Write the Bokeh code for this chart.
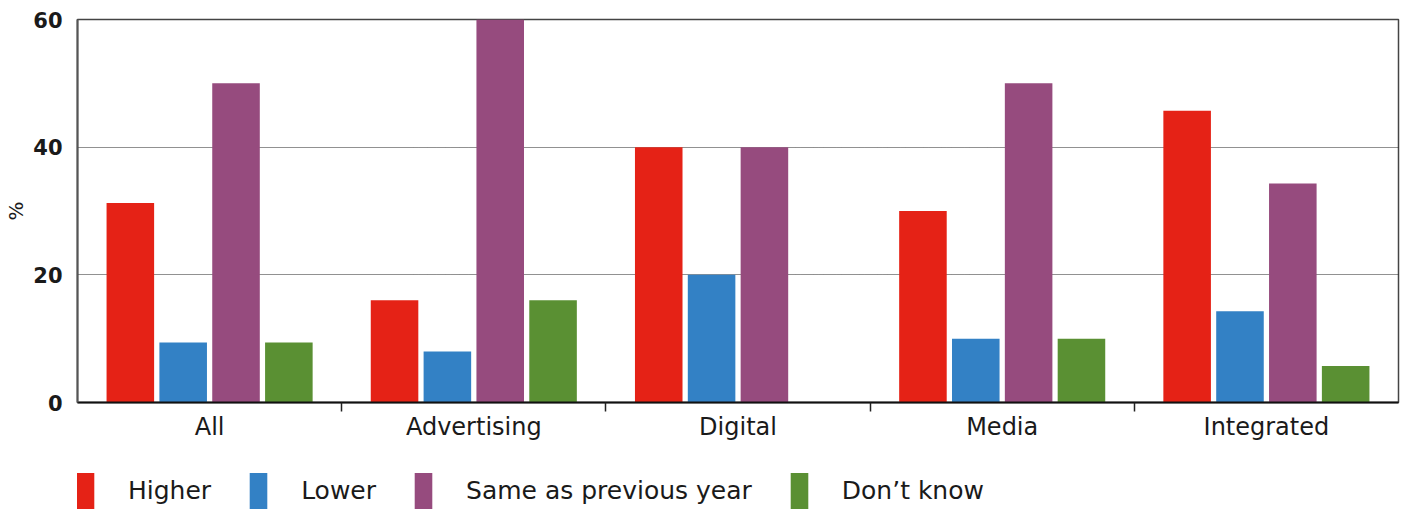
from bokeh.plotting import figure
from bokeh.layouts import column
from bokeh.models import ColumnDataSource, FixedTicker, Legend, LegendItem, Range1d
from bokeh.embed import file_html
from bokeh.resources import INLINE

categories = ["All", "Advertising", "Digital", "Media", "Integrated"]
series_names = ["Higher", "Lower", "Same as previous year", "Don\u2019t know"]
higher = [31.25, 16.0, 40.0, 30.0, 45.7]
lower = [9.4, 8.0, 20.0, 10.0, 14.3]
same = [50.0, 60.0, 40.0, 50.0, 34.3]
dont_know = [9.4, 16.0, 0.0, 10.0, 5.7]
y_ticks = [0, 20, 40, 60]

series_values = [higher, lower, same, dont_know]
colors = ["#E52216", "#3381C5", "#964B7E", "#5A9033"]
offsets = [-0.3, -0.1, 0.1, 0.3]

FONT = "DejaVu Sans"
TEXT = "#1a1a1a"
W = 1408
H1 = 462
H2 = 509 - H1

p = figure(width=W, height=H1, output_backend="svg", toolbar_location=None,
           x_range=Range1d(0, len(categories)), y_range=Range1d(0, 60),
           min_border_left=77, min_border_right=10, min_border_top=19,
           min_border_bottom=H1 - 402, background_fill_color="white",
           border_fill_color="white")

for name, vals, col, off in zip(series_names, series_values, colors, offsets):
    src = ColumnDataSource(dict(x=[i + 0.5 + off for i in range(len(categories))], top=vals))
    p.vbar(x="x", top="top", bottom=0, width=0.18, source=src,
           fill_color=col, line_color=None)

p.outline_line_color = "#444444"
p.outline_line_width = 1.5

# x axis
xa = p.xaxis[0]
xa.ticker = FixedTicker(ticks=[i + 0.5 for i in range(len(categories))],
                        minor_ticks=[i for i in range(1, len(categories))])
xa.major_label_overrides = {i + 0.5: c for i, c in enumerate(categories)}
xa.major_tick_line_color = None
xa.major_tick_in = 0
xa.major_tick_out = 0
xa.minor_tick_line_color = "#222222"
xa.minor_tick_line_width = 1.5
xa.minor_tick_in = 0
xa.minor_tick_out = 9
xa.axis_line_color = "#111111"
xa.axis_line_width = 2
xa.major_label_standoff = 1
xa.major_label_text_font = FONT
xa.major_label_text_font_size = "24px"
xa.major_label_text_color = TEXT

# y axis
ya = p.yaxis[0]
ya.ticker = FixedTicker(ticks=y_ticks)
ya.major_tick_line_color = None
ya.major_tick_in = 0
ya.major_tick_out = 0
ya.minor_tick_line_color = None
ya.axis_line_color = "#555555"
ya.axis_line_width = 2
ya.major_label_standoff = 15
ya.major_label_text_font = FONT
ya.major_label_text_font_size = "21px"
ya.major_label_text_font_style = "bold"
ya.major_label_text_color = TEXT
ya.axis_label = "%"
ya.axis_label_text_font = FONT
ya.axis_label_text_font_size = "20px"
ya.axis_label_text_font_style = "normal"
ya.axis_label_text_color = TEXT
ya.axis_label_standoff = 2

p.xgrid.grid_line_color = None
p.ygrid.grid_line_color = "#222222"
p.ygrid.grid_line_dash = "1 1"
p.ygrid.grid_line_width = 1

# legend strip
q = figure(width=W, height=H2, output_backend="svg", toolbar_location=None,
           x_range=Range1d(0, 1), y_range=Range1d(0, 1),
           x_axis_location=None, y_axis_location=None,
           min_border_left=0, min_border_right=0, min_border_top=0, min_border_bottom=0,
           outline_line_color=None, background_fill_color="white", border_fill_color="white")
q.xgrid.grid_line_color = None
q.ygrid.grid_line_color = None

proxies = []
for name, col in zip(series_names, colors):
    # zero-height proxy bar: only its legend swatch is visible
    r = q.vbar(x=[0.5], top=[0], bottom=[0], width=0.01, fill_color=col, line_color=None)
    proxies.append(r)

legend = Legend(items=[LegendItem(label=n, renderers=[r]) for n, r in zip(series_names, proxies)],
                orientation="horizontal", location=(-3, -4),
                glyph_width=22, glyph_height=45, label_standoff=32, spacing=36,
                padding=0, margin=0, border_line_color=None, background_fill_alpha=0,
                label_text_font=FONT, label_text_font_size="25px",
                label_text_color=TEXT, label_height=45)
q.add_layout(legend, "center")

layout = column(p, q, spacing=0)
open("out.html", "w").write(file_html(layout, INLINE))
